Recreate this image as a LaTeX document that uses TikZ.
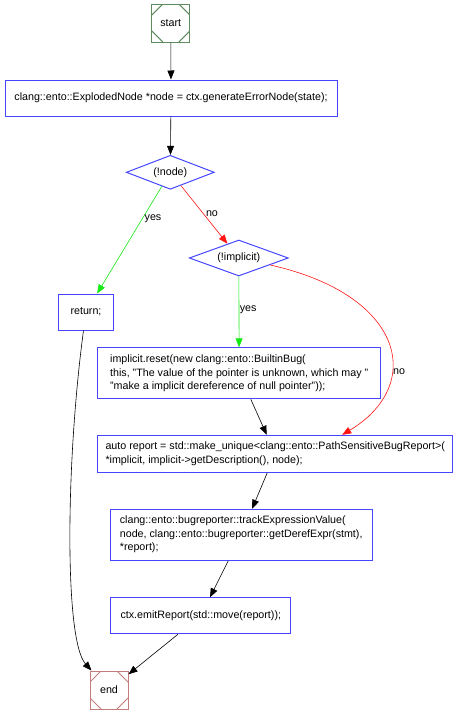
\documentclass[tikz,border=0pt]{standalone}
\usepackage{fontspec}
\setmainfont{Liberation Sans}
\usetikzlibrary{shapes.geometric,arrows.meta}

\definecolor{boxblue}{RGB}{70,70,255}
\definecolor{startgreen}{RGB}{95,140,95}
\definecolor{endred}{RGB}{195,125,125}
\definecolor{yesgreen}{RGB}{20,235,20}
\definecolor{nored}{RGB}{255,20,20}

\tikzset{
  stmt/.style={draw=boxblue, line width=1pt, align=left, inner xsep=8pt,
    font=\fontsize{10.7}{13.5}\selectfont},
  cond/.style={draw=boxblue, line width=1pt, diamond, aspect=2.75, inner sep=0pt,
    font=\fontsize{10.7}{13.5}\selectfont},
  term/.style={draw=#1, line width=1pt, minimum width=38pt, minimum height=38pt,
    inner sep=0pt, font=\fontsize{10.7}{13.5}\selectfont,
    path picture={
      \draw[#1, line width=1pt]
        ([xshift=11pt]path picture bounding box.north west) -- ([yshift=-11pt]path picture bounding box.north west)
        ([xshift=-11pt]path picture bounding box.north east) -- ([yshift=-11pt]path picture bounding box.north east)
        ([xshift=11pt]path picture bounding box.south west) -- ([yshift=11pt]path picture bounding box.south west)
        ([xshift=-11pt]path picture bounding box.south east) -- ([yshift=11pt]path picture bounding box.south east);
    }},
  flow/.style={-{Triangle[length=9pt,width=7pt]}, line width=0.6pt},
  lbl/.style={font=\fontsize{10.7}{12}\selectfont, inner sep=2pt, text=black}
}

\begin{document}
\begin{tikzpicture}[x=1pt,y=1pt]
    \useasboundingbox (0,0) rectangle (458,-712);

    % Start and end
    \node[term=startgreen] (start) at (170.8,-23) {start};
    \node[term=endred] (stop) at (109,-690) {end};

    % Statements and conditions
    \node[stmt, minimum width=332pt, minimum height=36pt] (errnode) at (171,-98)
        {clang::ento::ExplodedNode *node = ctx.generateErrorNode(state);};
    \node[cond, minimum width=88pt, minimum height=34pt] (ifnode) at (170.3,-172.3) {(!node)};
    \node[cond, minimum width=99pt, minimum height=36pt] (ifimpl) at (238.8,-258) {(!implicit)};
    \node[stmt, minimum width=55pt, minimum height=36pt] (ret) at (86,-312) {return;};
    \node[stmt, minimum width=283pt, minimum height=51pt] (reset) at (239.2,-373.3)
        {implicit.reset(new clang::ento::BuiltinBug(\\
         this, "The value of the pointer is unknown, which may "\\
         "make a implicit dereference of null pointer"));};
    \node[stmt, minimum width=355pt, minimum height=37pt] (report) at (275.2,-453.8)
        {auto report = std::make\_unique<clang::ento::PathSensitiveBugReport>(\\
         {}*implicit, implicit->getDescription(), node);};
    \node[stmt, minimum width=262pt, minimum height=51pt] (track) at (241.2,-534.7)
        {clang::ento::bugreporter::trackExpressionValue(\\
         node, clang::ento::bugreporter::getDerefExpr(stmt),\\
         {}*report);};
    \node[stmt, minimum width=180pt, minimum height=36pt] (emit) at (200.8,-615.8)
        {ctx.emitReport(std::move(report));};

    % Connectors
    \draw[flow] (start) -- (errnode);
    \draw[flow] (errnode) -- (ifnode);
    \draw[flow, yesgreen] (ifnode) -- node[lbl, pos=0.3, right] {yes} (ret);
    \draw[flow, nored] (ifnode) -- node[lbl, pos=0.49, right] {no} (ifimpl);
    \draw[flow, yesgreen] (ifimpl) -- node[lbl, pos=0.47, right, inner sep=0.5pt] {yes} (reset);
    \draw[flow, nored] (ifimpl) .. controls (405,-295) and (425,-385)
        .. node[lbl, pos=0.65, right] {no} ([xshift=67pt]report.north);
    \draw[flow] (reset) -- (report);
    \draw[flow] (report) -- (track);
    \draw[flow] (track) -- (emit);
    \draw[flow] (emit) -- (stop);
    \draw[flow] (ret) .. controls (66,-460) and (64,-640) .. (stop);
\end{tikzpicture}
\end{document}
